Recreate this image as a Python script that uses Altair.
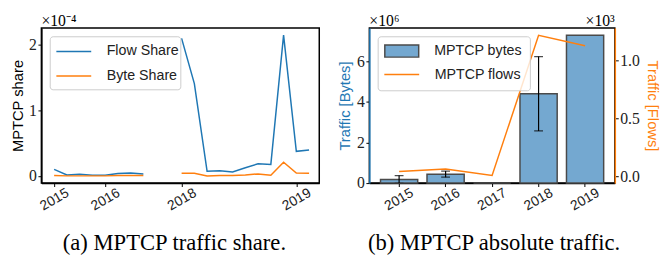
import altair as alt
import pandas as pd

# ---------------- Panel (a): MPTCP traffic share ----------------
sample_idx = list(range(21))
flow_share = [0.10e-4, 0.015e-4, 0.025e-4, 0.01e-4, 0.01e-4, 0.035e-4, 0.045e-4, 0.03e-4,
              None, None,
              2.10e-4, 1.41e-4, 0.07e-4, 0.08e-4, 0.06e-4, 0.125e-4, 0.185e-4, 0.175e-4,
              2.15e-4, 0.375e-4, 0.395e-4]
byte_share = [0.005e-4, 0.0, 0.0, 0.0, 0.0, 0.005e-4, 0.005e-4, 0.005e-4,
              None, None,
              0.04e-4, 0.04e-4, 0.0, 0.005e-4, 0.005e-4, 0.015e-4, 0.03e-4, 0.01e-4,
              0.21e-4, 0.045e-4, 0.04e-4]
segment = [1] * 8 + [0, 0] + [2] * 11
share_tick_pos = [0, 4, 10, 19]
share_tick_years = ["2015", "2016", "2018", "2019"]
share_series = ["Flow Share", "Byte Share"]

# ---------------- Panel (b): MPTCP absolute traffic ----------------
years = ["2015", "2016", "2017", "2018", "2019"]
mptcp_bytes = [0.18e6, 0.44e6, 0.0, 4.40e6, 7.28e6]
mptcp_bytes_err = [0.19e6, 0.15e6, 0.0, 1.83e6, 0.0]
mptcp_flows = [42, 64, 8, 1217, 1127]

BLUE = "#1f77b4"
ORANGE = "#ff7f0e"
BAR_FILL = "#74a8d0"
SERIF = "Liberation Serif"
SANS = "Liberation Sans"

rows = []
for i, f, s in zip(sample_idx, flow_share, segment):
    if f is not None:
        rows.append({"idx": i, "value": f, "series": "Flow Share", "seg": s})
for i, b, s in zip(sample_idx, byte_share, segment):
    if b is not None:
        rows.append({"idx": i, "value": b, "series": "Byte Share", "seg": s})
share_df = pd.DataFrame(rows)

label_map = "{" + ",".join(f"'{p}':'{y}'" for p, y in zip(share_tick_pos, share_tick_years)) + "}"

W1, H = 283, 158
W2 = 250
XLAB = dict(labelAngle=330, labelAlign="center", labelBaseline="middle",
            labelFont=SANS, labelFontSize=14, labelPadding=13)
YLAB = dict(labelFont=SERIF, labelFontSize=16, labelPadding=1.5)
YTITLE = dict(titleFont=SANS, titleFontSize=15, titleFontWeight="normal")

share_lines = alt.Chart(share_df).mark_line(strokeWidth=1.5).encode(
    x=alt.X("idx:Q",
            scale=alt.Scale(domain=[-1, 20.8], nice=False, zero=False),
            axis=alt.Axis(values=share_tick_pos, labelExpr=f"{label_map}[''+datum.value]",
                          title=None, grid=False, **XLAB)),
    y=alt.Y("value:Q",
            scale=alt.Scale(domain=[-0.11e-4, 2.26e-4], nice=False, zero=False),
            axis=alt.Axis(values=[0, 1e-4, 2e-4], labelExpr="format(datum.value*1e4,'.0f')",
                          title="MPTCP share", titlePadding=3, grid=False,
                          **YTITLE, **YLAB)),
    color=alt.Color("series:N",
                    scale=alt.Scale(domain=share_series, range=[BLUE, ORANGE]),
                    legend=alt.Legend(title=None, orient="none", legendX=14.5, legendY=5.5,
                                      symbolType="stroke", symbolSize=1260,
                                      symbolStrokeWidth=1.5, labelFont=SANS,
                                      labelFontSize=14.5, labelOffset=15, rowPadding=-11.5,
                                      padding=0)),
    detail="seg:N",
)

frame_a = alt.Chart(pd.DataFrame({"k": [0]})).mark_rect(
    fill="white", fillOpacity=0.8, stroke="#cccccc", strokeWidth=1, cornerRadius=3
).encode(x=alt.value(9), x2=alt.value(142), y=alt.value(9), y2=alt.value(63))

exp_a = alt.Chart(pd.DataFrame({"t": ["×10⁻⁴"]})).mark_text(
    font=SERIF, fontSize=16, align="left", baseline="alphabetic"
).encode(text="t:N", x=alt.value(0), y=alt.value(-2))

panel_a = alt.layer(share_lines, frame_a, exp_a).properties(
    width=W1, height=H,
    title=alt.TitleParams("(a) MPTCP traffic share.", orient="bottom", font=SERIF,
                          fontSize=23, fontWeight="normal", anchor="middle", frame="group",
                          dx=-6, offset=20, color="black"),
)

# panel b data
abs_df = pd.DataFrame({
    "year": years,
    "bytes": mptcp_bytes,
    "err": mptcp_bytes_err,
    "flows": mptcp_flows,
})
abs_df["lo"] = abs_df["bytes"] - abs_df["err"]
abs_df["hi"] = abs_df["bytes"] + abs_df["err"]
abs_df["lbl_b"] = "MPTCP bytes"
abs_df["lbl_f"] = "MPTCP flows"
err_df = abs_df[abs_df["err"] > 0]

xb = alt.X("year:O",
           scale=alt.Scale(paddingInner=0.2, paddingOuter=0.24),
           axis=alt.Axis(title=None, grid=False, **XLAB))
y_bytes_scale = alt.Scale(domain=[0, 7.64e6], nice=False, zero=False)

bars = alt.Chart(abs_df).mark_bar(stroke="#4a4a4a", strokeWidth=1.5).encode(
    x=xb,
    y=alt.Y("bytes:Q", scale=y_bytes_scale,
            axis=alt.Axis(values=[0, 2e6, 4e6, 6e6], labelExpr="format(datum.value/1e6,'.0f')",
                          title="Traffic [Bytes]", titleColor=BLUE, titlePadding=4,
                          domainColor=BLUE, domainWidth=1.5, grid=False,
                          **YTITLE, **YLAB)),
    fill=alt.Fill("lbl_b:N", scale=alt.Scale(domain=["MPTCP bytes"], range=[BAR_FILL]),
                  legend=alt.Legend(title=None, orient="none", legendX=15, legendY=5.5,
                                    symbolType="M-1,-0.36H1V0.36H-1Z", symbolSize=1190,
                                    symbolStrokeColor="#4a4a4a", symbolStrokeWidth=1.5,
                                    labelFont=SANS, labelFontSize=14.5, labelOffset=15,
                                    padding=0)),
)

err_rule = alt.Chart(err_df).mark_rule(color="black", strokeWidth=1.2, clip=True).encode(
    x=xb, y=alt.Y("lo:Q", scale=y_bytes_scale), y2="hi:Q")
err_cap = alt.Chart(err_df).transform_fold(["lo", "hi"], as_=["end", "val"]).mark_tick(
    color="black", thickness=1.2, size=9, orient="horizontal", clip=True
).encode(x=xb, y=alt.Y("val:Q", scale=y_bytes_scale))

left_layer = alt.layer(bars, err_rule, err_cap)

flows_line = alt.Chart(abs_df).mark_line(strokeWidth=1.5).encode(
    x=xb,
    y=alt.Y("flows:Q", scale=alt.Scale(domain=[-57, 1280], nice=False, zero=False),
            axis=alt.Axis(orient="right", values=[0, 500, 1000],
                          labelExpr="format(datum.value/1e3,'.1f')",
                          title="Traffic [Flows]", titleColor=ORANGE, titlePadding=5,
                          domainColor=ORANGE, domainWidth=1.5, grid=False,
                          **YTITLE, **YLAB)),
    stroke=alt.Stroke("lbl_f:N", scale=alt.Scale(domain=["MPTCP flows"], range=[ORANGE]),
                      legend=alt.Legend(title=None, orient="none", legendX=14.5, legendY=29,
                                        symbolType="stroke", symbolSize=1260,
                                        symbolStrokeWidth=1.5, labelFont=SANS,
                                        labelFontSize=14.5, labelOffset=15, padding=0)),
)

frame_b = alt.Chart(pd.DataFrame({"k": [0]})).mark_rect(
    fill="white", fillOpacity=0.8, stroke="#cccccc", strokeWidth=1, cornerRadius=3
).encode(x=alt.value(9), x2=alt.value(164), y=alt.value(9), y2=alt.value(64))

exp_b1 = alt.Chart(pd.DataFrame({"t": ["×10⁶"]})).mark_text(
    font=SERIF, fontSize=16, align="left", baseline="alphabetic"
).encode(text="t:N", x=alt.value(0), y=alt.value(-2))
exp_b2 = alt.Chart(pd.DataFrame({"t": ["×10³"]})).mark_text(
    font=SERIF, fontSize=16, align="right", baseline="alphabetic"
).encode(text="t:N", x=alt.value(W2), y=alt.value(-2))

panel_b = alt.layer(left_layer, flows_line, frame_b, exp_b1, exp_b2).resolve_scale(
    y="independent"
).properties(
    width=W2, height=H,
    title=alt.TitleParams("(b) MPTCP absolute traffic.", orient="bottom", font=SERIF,
                          fontSize=23, fontWeight="normal", anchor="middle", frame="group",
                          dx=2, offset=20, color="black"),
)

chart = alt.hconcat(panel_a, panel_b, spacing=17).resolve_legend(
    color="independent", fill="independent", stroke="independent"
).properties(
    padding={"left": 2, "top": 2, "right": 0, "bottom": 0}
).configure_view(
    stroke="black", strokeWidth=1.5
).configure_axis(
    domainColor="black", domainWidth=1.5, tickColor="black", tickSize=3.5, tickWidth=1,
    labelColor="#222222"
).configure_legend(
    labelColor="#222222"
)

chart.save("out.html", embed_options={"renderer": "svg", "actions": False})
